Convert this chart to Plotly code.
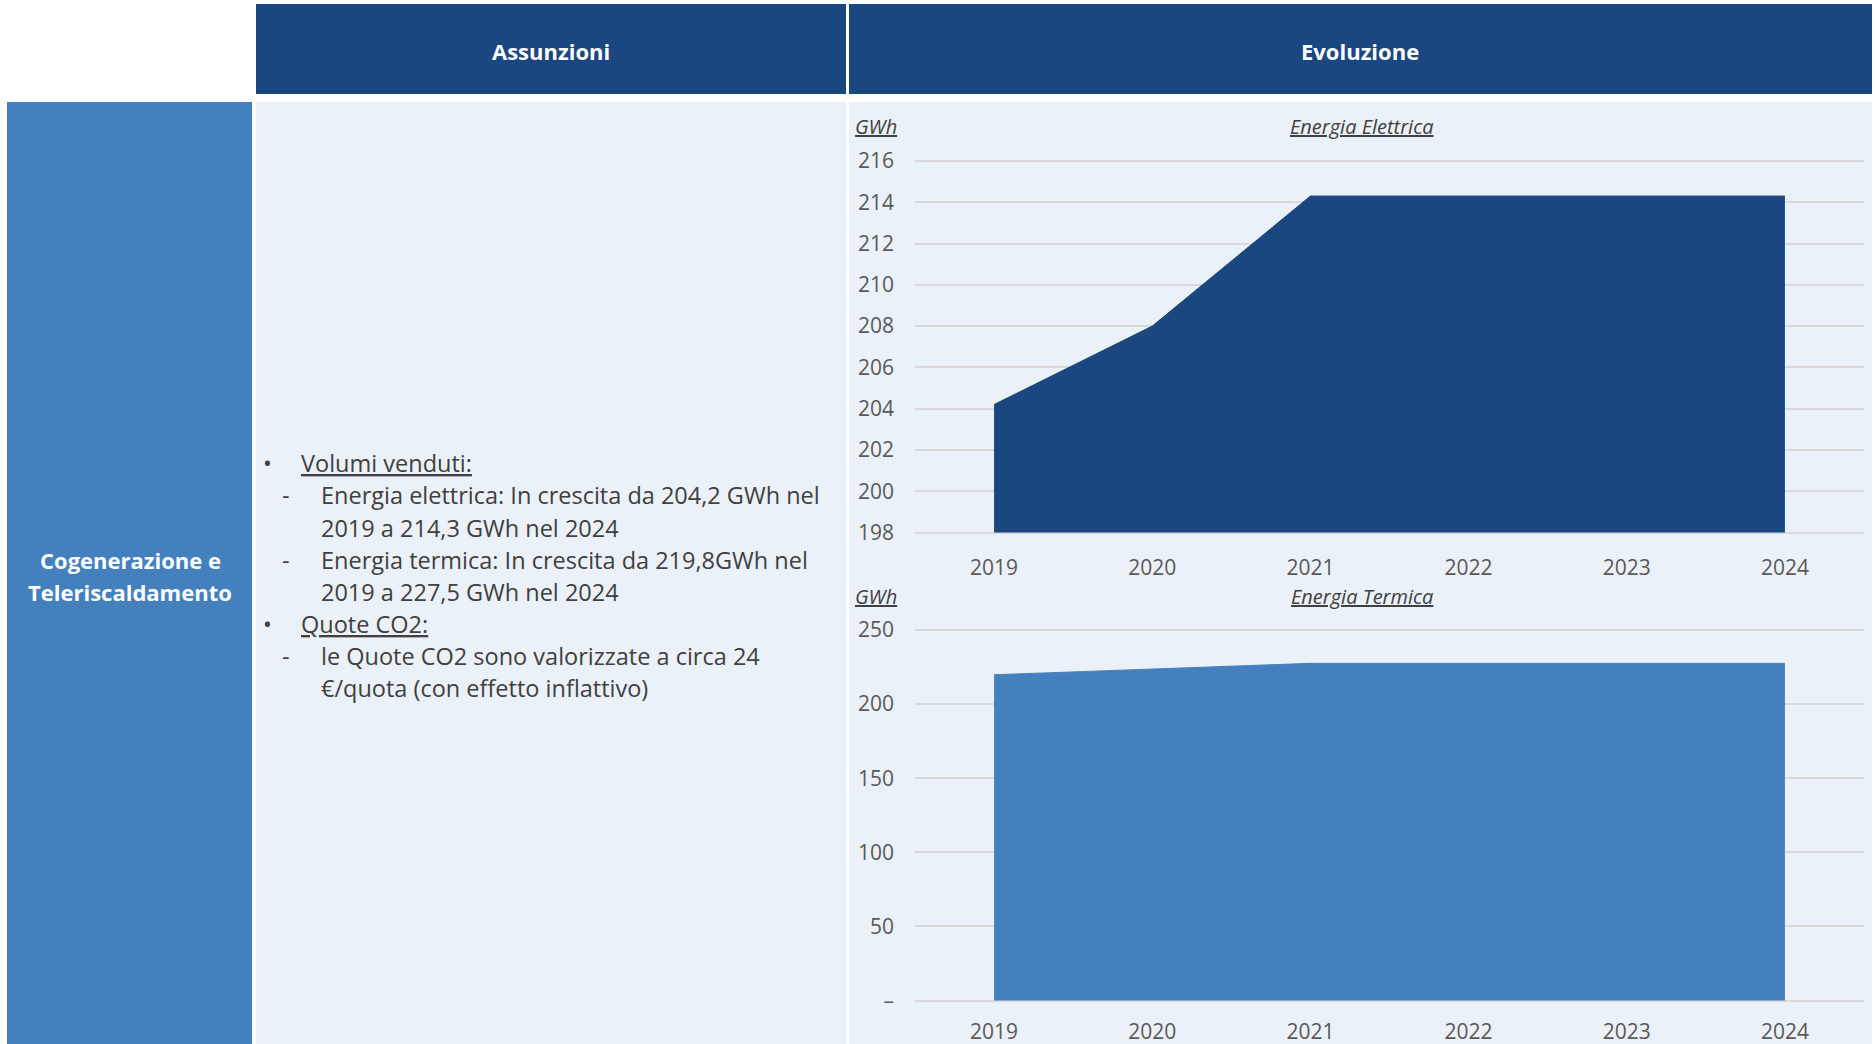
import plotly.graph_objects as go

# ---- data -------------------------------------------------------------
years = ["2019", "2020", "2021", "2022", "2023", "2024"]
energia_elettrica = [204.2, 208.0, 214.3, 214.3, 214.3, 214.3]   # GWh
energia_termica = [219.8, 223.7, 227.5, 227.5, 227.5, 227.5]      # GWh

el_ticks = [198, 200, 202, 204, 206, 208, 210, 212, 214, 216]
term_ticks = [0, 50, 100, 150, 200, 250]
term_ticktext = ["–", "50", "100", "150", "200", "250"]

assunzioni_lines = [
    ("bullet", "<u>Volumi venduti:</u>"),
    ("dash", "Energia elettrica: In crescita da 204,2 GWh nel"),
    ("cont", "2019 a 214,3 GWh nel 2024"),
    ("dash", "Energia termica: In crescita da 219,8GWh nel"),
    ("cont", "2019 a 227,5 GWh nel 2024"),
    ("bullet", "<u>Quote CO2:</u>"),
    ("dash", "le Quote CO2 sono valorizzate a circa 24"),
    ("cont", "€/quota (con effetto inflattivo)"),
]

# ---- page geometry (pixels) ------------------------------------------
W, H = 1875, 1044
DARK = "#1A477F"
MID = "#4580BE"
LIGHT = "#EAF1F8"
TEXT = "#404040"
TICK = "#595959"
GRID = "#D9D9D9"
FONT = "Open Sans"


def px(x):
    return x / W


def py(y):
    return 1 - y / H


def ydomain(top_val, bot_val, top_px, bot_px, lo, hi):
    per = (bot_px - top_px) / (top_val - bot_val)
    top = top_px - (hi - top_val) * per
    bot = bot_px + (bot_val - lo) * per
    return [py(bot), py(top)]


X_DOM = [px(915), px(1864)]
EL_RANGE = [197.85, 216.15]
TE_RANGE = [-2.5, 252.5]

fig = go.Figure()

# Energia Elettrica: area filled down to the 198 baseline
fig.add_trace(go.Scatter(
    x=years, y=[el_ticks[0]] * len(years), mode="lines",
    line=dict(width=0, color=DARK), showlegend=False, hoverinfo="skip",
    xaxis="x", yaxis="y"))
fig.add_trace(go.Scatter(
    x=years, y=energia_elettrica, mode="lines", fill="tonexty",
    fillcolor=DARK, line=dict(width=1, color=DARK), showlegend=False,
    name="Energia Elettrica", xaxis="x", yaxis="y"))

# Energia Termica
fig.add_trace(go.Scatter(
    x=years, y=energia_termica, mode="lines", fill="tozeroy",
    fillcolor=MID, line=dict(width=1, color=MID), showlegend=False,
    name="Energia Termica", xaxis="x2", yaxis="y2"))

# ---- background panels ------------------------------------------------
shapes = []


def rect(x0, y0, x1, y1, color):
    shapes.append(dict(type="rect", xref="paper", yref="paper",
                       x0=px(x0), x1=px(x1), y0=py(y1), y1=py(y0),
                       fillcolor=color, line=dict(width=0), layer="below"))


rect(256, 4, 846, 94, DARK)       # header Assunzioni
rect(849, 4, 1872, 94, DARK)      # header Evoluzione
rect(7, 102, 252, 1044, MID)      # row label
rect(256, 102, 846, 1044, LIGHT)  # Assunzioni body
rect(849, 102, 1872, 1044, LIGHT)  # Evoluzione body

# ---- text ---------------------------------------------------------------
ann = []


def text(x, y, s, size, color, anchor="left", bold=False, italic=False,
         underline=False):
    ann.append(dict(
        xref="paper", yref="paper", x=px(x), y=py(y), text=s,
        showarrow=False, xanchor=anchor, yanchor="middle",
        font=dict(family=FONT, size=size, color=color,
                  weight="bold" if bold else "normal",
                  style="italic" if italic else "normal",
                  lineposition="under" if underline else "none")))


text(551, 51, "Assunzioni", 22, "white", anchor="center", bold=True)
text(1360, 51, "Evoluzione", 22, "white", anchor="center", bold=True)
text(130, 560, "Cogenerazione e", 22, "white", anchor="center", bold=True)
text(130, 591.5, "Teleriscaldamento", 22, "white", anchor="center", bold=True)

BODY = 23.5
for i, (kind, s) in enumerate(assunzioni_lines):
    y = 463.3 + 32.14 * i
    if kind == "bullet":
        text(267, y, "•", BODY, TEXT, anchor="center")
        text(299, y, s, BODY, TEXT)
    elif kind == "dash":
        text(286, y, "-", BODY, TEXT, anchor="center")
        text(319, y, s, BODY, TEXT)
    else:
        text(319, y, s, BODY, TEXT)

for y_c, title in [(126, "Energia Elettrica"), (596, "Energia Termica")]:
    text(853, y_c, "GWh", 20, TEXT, italic=True, underline=True)
    text(1362, y_c, title, 20, TEXT, anchor="center", italic=True,
         underline=True)

# ---- axes ---------------------------------------------------------------
tickfont = dict(family=FONT, size=21, color=TICK)
xcommon = dict(type="category", categoryorder="array", categoryarray=years,
               range=[-0.5, len(years) - 0.5], domain=X_DOM, showgrid=False,
               zeroline=False, showline=False, ticks="", tickfont=tickfont,
               automargin=False, fixedrange=True)
ycommon = dict(showgrid=True, gridcolor=GRID, gridwidth=1.5, zeroline=False,
               showline=False, ticks="", tickfont=tickfont,
               ticklabelstandoff=20, automargin=False, fixedrange=True)

fig.update_layout(
    template="none",
    width=W, height=H,
    margin=dict(l=0, r=0, t=0, b=0, pad=0, autoexpand=False),
    paper_bgcolor="white", plot_bgcolor="rgba(0,0,0,0)",
    showlegend=False,
    shapes=shapes, annotations=ann,
    xaxis=dict(**xcommon, anchor="y", ticklabelstandoff=17),
    yaxis=dict(**ycommon, anchor="x", range=EL_RANGE, tickvals=el_ticks,
               domain=ydomain(216, 198, 161, 532.5, *EL_RANGE)),
    xaxis2=dict(**xcommon, anchor="y2", ticklabelstandoff=13),
    yaxis2=dict(**ycommon, anchor="x2", range=TE_RANGE, tickvals=term_ticks,
                ticktext=term_ticktext,
                domain=ydomain(250, 0, 630, 1000.5, *TE_RANGE)),
)

fig.write_html("out.html")
